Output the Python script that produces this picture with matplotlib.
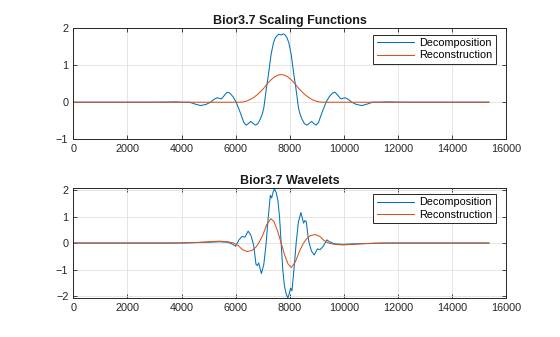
import matplotlib
matplotlib.use('Agg')
import matplotlib.pyplot as plt

# values (x in samples)
phi_d_x = [0, 3000, 3500, 3800, 4000, 4300, 4500, 4700, 4900, 5070, 5200, 5315, 5475, 5600, 5685,
           5780, 5900, 6020, 6100, 6180, 6300, 6390, 6470, 6550, 6640, 6730, 6820, 6915, 6990, 7040,
           7120, 7220, 7310, 7400, 7470, 7530, 7590, 7680, 7770, 7830, 7890, 7960, 8050, 8140, 8240,
           8320, 8370, 8445, 8540, 8630, 8720, 8810, 8890, 8970, 9060, 9180, 9260, 9340, 9460, 9580,
           9675, 9760, 9885, 10045, 10160, 10290, 10460, 10660, 10860, 11060, 11360, 11560, 11860,
           12360, 15360]
phi_d_y = [0, 0, 0.005, 0.01, 0, 0, -0.05, -0.09, -0.06, 0, 0.08, 0.12, 0.09, 0.2, 0.27,
           0.25, 0.15, 0.0, -0.15, -0.3, -0.55, -0.62, -0.58, -0.52, -0.57, -0.62, -0.58, -0.45, -0.3, -0.15,
           0.3, 0.8, 1.3, 1.62, 1.75, 1.8, 1.84, 1.82, 1.85, 1.82, 1.75, 1.62, 1.3, 0.8, 0.3,
           -0.15, -0.3, -0.45, -0.58, -0.62, -0.57, -0.52, -0.58, -0.62, -0.55, -0.3, -0.15, 0, 0.15, 0.25,
           0.27, 0.2, 0.09, 0.12, 0.08, 0, -0.06, -0.09, -0.05, 0, 0, 0.01, 0.005,
           0, 0]

phi_r_x = [0, 6144, 6272, 6400, 6528, 6656, 6784, 6912, 7040, 7168, 7296, 7424, 7552, 7680,
           7808, 7936, 8064, 8192, 8320, 8448, 8576, 8704, 8832, 8960, 9088, 9216, 15360]
phi_r_y = [0, 0, 0.008, 0.031, 0.07, 0.125, 0.195, 0.28, 0.38, 0.5, 0.6, 0.68, 0.73, 0.75,
           0.73, 0.68, 0.6, 0.5, 0.38, 0.28, 0.195, 0.125, 0.07, 0.031, 0.008, 0, 0]

psi_d_x = [0, 3500, 4000, 4500, 5000, 5400, 5700, 5900, 5990, 6060, 6120, 6240, 6340, 6460, 6560,
           6630, 6670, 6750, 6800, 6850, 6950, 7040, 7120, 7200, 7280, 7330, 7380, 7430, 7500, 7560,
           7620, 7680, 7740, 7800, 7860, 7930, 7980, 8030, 8080, 8160, 8240, 8320, 8410, 8510, 8560,
           8610, 8690, 8730, 8800, 8900, 9020, 9120, 9240, 9300, 9370, 9460, 9660, 9960, 10360, 10860,
           11360, 11860, 15360]
psi_d_y = [0, 0, 0.005, 0.02, 0.03, 0.05, 0.03, -0.05, -0.12, 0.0, 0.12, 0.25, 0.22, 0.45, 0.3,
           0.05, -0.12, -0.8, -0.85, -0.75, -1.15, -0.8, -0.06, 0.93, 1.8, 1.7, 1.9, 2.05, 1.9, 1.6,
           1.0, 0, -1.0, -1.6, -1.9, -2.07, -1.9, -1.7, -1.8, -0.93, 0.06, 0.8, 1.15, 0.75, 0.85,
           0.8, 0.12, -0.05, -0.3, -0.45, -0.22, -0.25, -0.12, 0.0, 0.12, 0.05, -0.03, -0.05, -0.03, -0.02,
           -0.005, 0, 0]

psi_r_x = [0, 3800, 4200, 4600, 5000, 5400, 5700, 5930, 6100, 6250, 6420, 6600, 6750, 6850, 7000,
           7150, 7300, 7420, 7550, 7680, 7810, 7940, 8060, 8210, 8360, 8510, 8610, 8760, 8940, 9110,
           9260, 9430, 9660, 9960, 10360, 10760, 11160, 11560, 15360]
psi_r_y = [0, 0, 0.005, 0.02, 0.05, 0.07, 0.05, 0, -0.1, -0.25, -0.32, -0.28, -0.15, 0, 0.3,
           0.7, 0.92, 0.8, 0.45, 0, -0.45, -0.8, -0.92, -0.7, -0.3, 0, 0.15, 0.28, 0.32, 0.25,
           0.1, 0, -0.05, -0.07, -0.05, -0.02, -0.005, 0, 0]

xticks = [0, 2000, 4000, 6000, 8000, 10000, 12000, 14000, 16000]

plt.rcParams['font.family'] = ['Liberation Sans', 'DejaVu Sans']
blue = '#0072BD'
orange = '#D95319'

fig = plt.figure(figsize=(5.6, 3.37), dpi=100)
ax1 = fig.add_axes([0.131, 0.587, 0.773, 0.329])
ax2 = fig.add_axes([0.131, 0.115, 0.773, 0.326])


def style(ax, title, yticks, ylim, legy):
    ax.set_xlim(0, 16000)
    ax.set_ylim(*ylim)
    ax.set_xticks(xticks)
    ax.set_yticks(yticks)
    ax.grid(True, color='#e0e0e0', linewidth=0.6)
    ax.set_axisbelow(True)
    ax.tick_params(direction='in', length=3, width=0.6, labelsize=7.8, colors='#262626',
                   top=True, right=True)
    for s in ax.spines.values():
        s.set_linewidth(0.7)
        s.set_color('#262626')
    ax.set_title(title, fontsize=9, fontweight='bold', color='#1a1a1a', pad=3)
    leg = ax.legend(loc='upper right', bbox_to_anchor=(0.976, legy), borderaxespad=0,
                    fontsize=7.8, handlelength=3.5, handletextpad=0.45, fancybox=False,
                    framealpha=1, edgecolor='#262626', borderpad=0.3, labelspacing=0.2)
    leg.get_frame().set_linewidth(0.7)


ax1.plot(phi_d_x, phi_d_y, color=blue, linewidth=0.75, label='Decomposition')
ax1.plot(phi_r_x, phi_r_y, color=orange, linewidth=0.75, label='Reconstruction')
style(ax1, 'Bior3.7 Scaling Functions', [-1, 0, 1, 2], (-1, 2), 0.94)

ax2.plot(psi_d_x, psi_d_y, color=blue, linewidth=0.75, label='Decomposition')
ax2.plot(psi_r_x, psi_r_y, color=orange, linewidth=0.75, label='Reconstruction')
style(ax2, 'Bior3.7 Wavelets', [-2, -1, 0, 1, 2], (-2.08, 2.06), 0.948)

fig.savefig('out.png', dpi=100)
